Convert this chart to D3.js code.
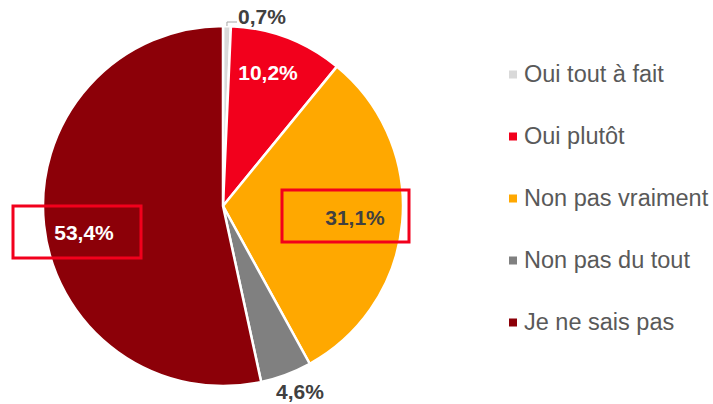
<!DOCTYPE html>
<html>
<head>
<meta charset="utf-8">
<script src="https://cdn.jsdelivr.net/npm/d3@7"></script>
<style>
  body { margin: 0; background: #fff; }
  text { font-family: "Liberation Sans", Arial, sans-serif; }
</style>
</head>
<body>
<script>
const width = 713;
const height = 404;

const categories = ["Oui tout à fait", "Oui plutôt", "Non pas vraiment", "Non pas du tout", "Je ne sais pas"];
const values = [0.7, 10.2, 31.1, 4.6, 53.4];
const labels = ["0,7%", "10,2%", "31,1%", "4,6%", "53,4%"];
const colors = ["#d9d9d9", "#f2001c", "#ffa800", "#808080", "#8c0008"];
const labelColors = ["#404040", "#fff", "#404040", "#404040", "#fff"];

const cx = 223, cy = 206, radius = 180;

let svg = d3.select("body").append("svg")
    .attr("width", width)
    .attr("height", height)

let pieG = svg.append("g")
    .attr("transform", "translate(" + cx + "," + cy + ")")

let pie = d3.pie().sort(null).value(d => d)
let arcs = pie(values)

let arc = d3.arc().innerRadius(0).outerRadius(radius)

pieG.selectAll("path")
    .data(arcs)
    .enter()
    .append("path")
    .attr("d", arc)
    .attr("fill", (d, i) => colors[i])
    .attr("stroke", "#fff")
    .attr("stroke-width", 2.5)
    .attr("stroke-linejoin", "round")

// label positions (relative to centre), inside or outside as in the original
const labelPos = [
    [39, -190],
    [45, -134],
    [132, 11],
    [77, 185],
    [-139, 26]
]

pieG.selectAll("text.lbl")
    .data(arcs)
    .enter()
    .append("text")
    .attr("class", "lbl")
    .attr("x", (d, i) => labelPos[i][0])
    .attr("y", (d, i) => labelPos[i][1])
    .attr("text-anchor", "middle")
    .attr("dominant-baseline", "central")
    .attr("font-size", 21)
    .attr("font-weight", "bold")
    .attr("fill", (d, i) => labelColors[i])
    .text((d, i) => labels[i])

// leader line for the tiny slice
let a0 = (arcs[0].startAngle + arcs[0].endAngle) / 2
pieG.append("polyline")
    .attr("points", [
        [Math.sin(a0) * radius, -Math.cos(a0) * radius],
        [Math.sin(a0) * radius, -184],
        [14, -184]
    ].map(p => p.join(",")).join(" "))
    .attr("fill", "none")
    .attr("stroke", "#a6a6a6")
    .attr("stroke-width", 1)

// highlight boxes
svg.append("rect")
    .attr("x", 13).attr("y", 206).attr("width", 128).attr("height", 52)
    .attr("fill", "none").attr("stroke", "#f2001c").attr("stroke-width", 3)
svg.append("rect")
    .attr("x", 282).attr("y", 190).attr("width", 127).attr("height", 52)
    .attr("fill", "none").attr("stroke", "#f2001c").attr("stroke-width", 3)

// legend
let legend = svg.append("g")
    .attr("transform", "translate(509,74)")

let items = legend.selectAll("g")
    .data(categories)
    .enter()
    .append("g")
    .attr("transform", (d, i) => "translate(0," + i * 62 + ")")

items.append("rect")
    .attr("x", 0).attr("y", -3.5)
    .attr("width", 8).attr("height", 8)
    .attr("fill", (d, i) => colors[i])

items.append("text")
    .attr("x", 15)
    .attr("y", 0)
    .attr("dominant-baseline", "central")
    .attr("font-size", 23.5)
    .attr("fill", "#595959")
    .text(d => d)
</script>
</body>
</html>
